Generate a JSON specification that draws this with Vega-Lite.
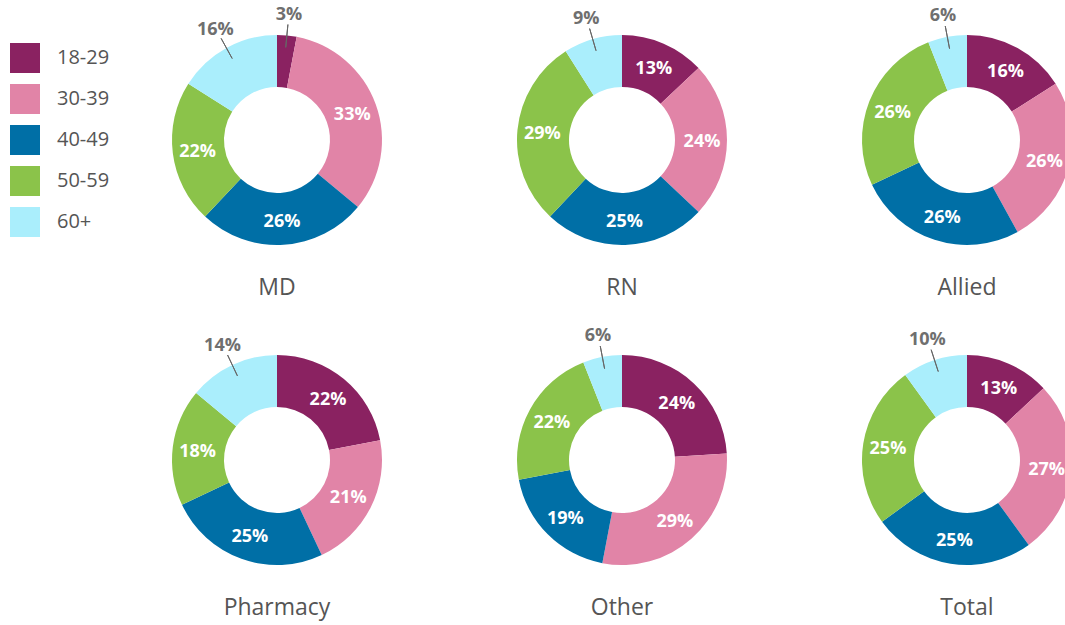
{
  "$schema": "https://vega.github.io/schema/vega-lite/v6.json",
  "width": 1065,
  "height": 625,
  "autosize": {"type": "none"},
  "padding": 0,
  "background": "white",
  "config": {"view": {"stroke": null}, "font": "Open Sans"},
  "data": {"values": [
    {"chart": "MD", "age": "18-29", "pct": 3},
    {"chart": "MD", "age": "30-39", "pct": 33},
    {"chart": "MD", "age": "40-49", "pct": 26},
    {"chart": "MD", "age": "50-59", "pct": 22},
    {"chart": "MD", "age": "60+", "pct": 16},
    {"chart": "RN", "age": "18-29", "pct": 13},
    {"chart": "RN", "age": "30-39", "pct": 24},
    {"chart": "RN", "age": "40-49", "pct": 25},
    {"chart": "RN", "age": "50-59", "pct": 29},
    {"chart": "RN", "age": "60+", "pct": 9},
    {"chart": "Allied", "age": "18-29", "pct": 16},
    {"chart": "Allied", "age": "30-39", "pct": 26},
    {"chart": "Allied", "age": "40-49", "pct": 26},
    {"chart": "Allied", "age": "50-59", "pct": 26},
    {"chart": "Allied", "age": "60+", "pct": 6},
    {"chart": "Pharmacy", "age": "18-29", "pct": 22},
    {"chart": "Pharmacy", "age": "30-39", "pct": 21},
    {"chart": "Pharmacy", "age": "40-49", "pct": 25},
    {"chart": "Pharmacy", "age": "50-59", "pct": 18},
    {"chart": "Pharmacy", "age": "60+", "pct": 14},
    {"chart": "Other", "age": "18-29", "pct": 24},
    {"chart": "Other", "age": "30-39", "pct": 29},
    {"chart": "Other", "age": "40-49", "pct": 19},
    {"chart": "Other", "age": "50-59", "pct": 22},
    {"chart": "Other", "age": "60+", "pct": 6},
    {"chart": "Total", "age": "18-29", "pct": 13},
    {"chart": "Total", "age": "30-39", "pct": 27},
    {"chart": "Total", "age": "40-49", "pct": 25},
    {"chart": "Total", "age": "50-59", "pct": 25},
    {"chart": "Total", "age": "60+", "pct": 10}
  ]},
  "transform": [
    {"stack": "pct", "groupby": ["chart"], "sort": [{"field": "age", "order": "ascending"}], "as": ["start", "end"]},
    {"calculate": "(datum.start + datum.end) / 2", "as": "mid"},
    {"calculate": "indexof(['MD','RN','Allied','Pharmacy','Other','Total'], datum.chart)", "as": "idx"},
    {"calculate": "datum.idx % 3", "as": "col"},
    {"calculate": "floor(datum.idx / 3)", "as": "row"},
    {"calculate": "datum.pct + '%'", "as": "label"},
    {"calculate": "datum.age == '60+' || datum.pct < 5", "as": "outside"}
  ],
  "encoding": {
    "x": {"field": "col", "type": "quantitative", "scale": {"domain": [-0.8029, 2.2841], "nice": false, "zero": false}, "axis": null},
    "y": {"field": "row", "type": "quantitative", "scale": {"domain": [-0.4375, 1.5156], "nice": false, "zero": false, "reverse": true}, "axis": null}
  },
  "layer": [
    {
      "mark": {"type": "arc", "radius": 105, "radius2": 53},
      "encoding": {
        "theta": {"field": "start", "type": "quantitative", "scale": {"domain": [0, 100]}},
        "theta2": {"field": "end"},
        "color": {
          "field": "age", "type": "nominal",
          "scale": {"domain": ["18-29", "30-39", "40-49", "50-59", "60+"], "range": ["#8A2261", "#E184A7", "#006FA6", "#8BC34A", "#AAEEFC"]},
          "legend": {
            "title": null, "orient": "none", "legendX": 10, "legendY": 43, "padding": 0,
            "symbolType": "square", "symbolSize": 900, "symbolStrokeWidth": 0, "symbolOpacity": 1,
            "rowPadding": 11, "labelOffset": 17, "labelFontSize": 20, "labelColor": "#555555", "labelFont": "Open Sans"
          }
        }
      }
    },
    {
      "transform": [{"filter": "datum.outside"}],
      "mark": {"type": "arc", "radius": 116, "radius2": 93, "stroke": "#666666", "strokeWidth": 1, "fill": null},
      "encoding": {
        "theta": {"field": "mid", "type": "quantitative"},
        "theta2": {"field": "mid"}
      }
    },
    {
      "transform": [{"filter": "!datum.outside"}],
      "mark": {"type": "text", "radius": 80, "dy": 2, "font": "Open Sans", "fontWeight": "bold", "fontSize": 18, "color": "white", "align": "center", "baseline": "middle"},
      "encoding": {
        "theta": {"field": "mid", "type": "quantitative"},
        "text": {"field": "label"}
      }
    },
    {
      "transform": [{"filter": "datum.outside"}],
      "mark": {"type": "text", "radius": 128, "dy": 2, "font": "Open Sans", "fontWeight": "bold", "fontSize": 18, "color": "#6F6F6F", "align": "center", "baseline": "middle"},
      "encoding": {
        "theta": {"field": "mid", "type": "quantitative"},
        "text": {"field": "label"}
      }
    },
    {
      "transform": [{"filter": "datum.age == '18-29'"}],
      "mark": {"type": "text", "dy": 148, "font": "Open Sans", "fontSize": 23, "color": "#555555", "align": "center", "baseline": "middle"},
      "encoding": {
        "text": {"field": "chart"}
      }
    }
  ]
}
